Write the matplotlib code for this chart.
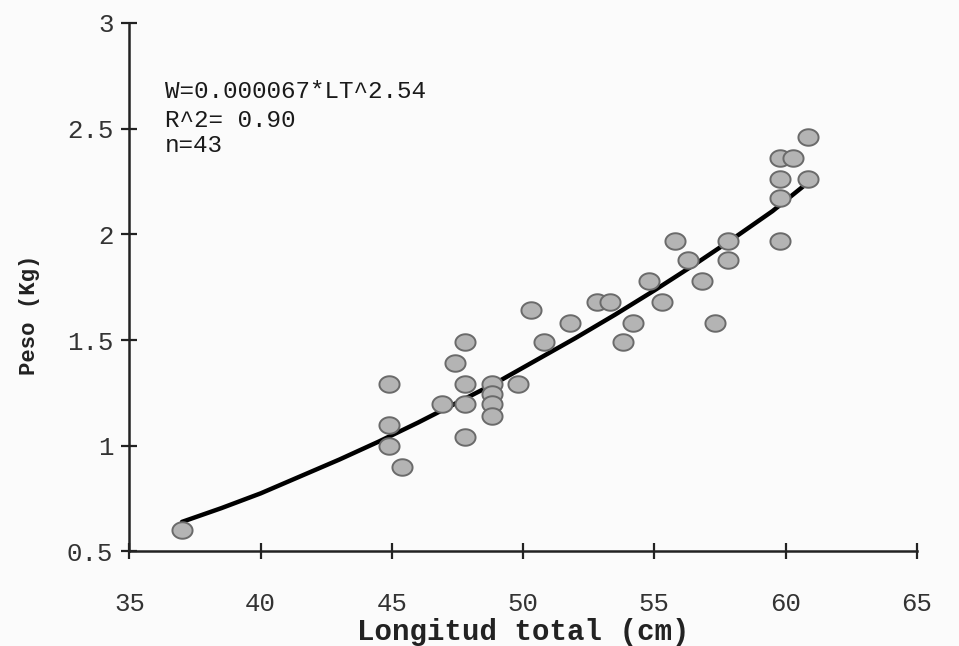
import matplotlib
matplotlib.use("Agg")
import matplotlib.pyplot as plt
import numpy as np
from matplotlib.path import Path

# Observed points (Longitud total cm, Peso kg)
longitud = [37.0, 44.9, 44.9, 44.9, 45.4, 46.9, 47.4, 47.8, 47.8, 47.8, 47.8,
            48.8, 48.8, 48.8, 48.8, 49.8, 50.3, 50.8, 51.8, 52.8, 53.3, 53.8,
            54.2, 54.8, 55.3, 55.8, 56.3, 56.8, 57.3, 57.8, 57.8, 59.8, 59.8,
            59.8, 59.8, 60.3, 60.85, 60.85]
peso = [0.60, 1.29, 1.10, 1.00, 0.90, 1.20, 1.39, 1.49, 1.29, 1.20, 1.04,
        1.29, 1.245, 1.20, 1.14, 1.29, 1.64, 1.49, 1.58, 1.68, 1.68, 1.49,
        1.58, 1.78, 1.68, 1.97, 1.88, 1.78, 1.58, 1.97, 1.88, 2.36, 2.26,
        2.17, 1.97, 2.36, 2.46, 2.26]

# Fitted curve
curve_x = [37.0, 38.5, 40.0, 41.5, 43.0, 44.5, 46.0, 47.5, 49.0, 50.5,
           52.0, 53.5, 55.0, 56.5, 58.0, 59.5, 60.9]
curve_y = [0.64, 0.705, 0.775, 0.855, 0.935, 1.02, 1.11, 1.205, 1.30, 1.405,
           1.51, 1.62, 1.735, 1.855, 1.98, 2.11, 2.25]

x_ticks = [35, 40, 45, 50, 55, 60, 65]
y_ticks = [0.5, 1, 1.5, 2, 2.5, 3]
y_tick_labels = ["0.5", "1", "1.5", "2", "2.5", "3"]
annot = ["W=0.000067*LT^2.54", "R^2= 0.90", "n=43"]

mono = "Liberation Mono"
bg = "#fbfbfb"

fig = plt.figure(figsize=(9.59, 6.46), dpi=100, facecolor=bg)
ax = fig.add_axes([0.135, 0.1463, 0.821, 0.8181], facecolor=bg)

# ellipse marker (wider than tall)
t = np.linspace(0, 2 * np.pi, 60)
ell = Path(np.column_stack([1.22 * np.cos(t), np.sin(t)]), closed=True)
ax.plot(curve_x, curve_y, color="black", lw=3.2, zorder=3,
        solid_capstyle="round", solid_joinstyle="round")
ax.scatter(longitud, peso, marker=ell, s=14.5 ** 2, facecolor="#b4b4b4",
           edgecolor="#6a6a6a", linewidths=1.4, zorder=4)

ax.set_xlim(35, 65)
ax.set_ylim(0.5, 3)
ax.set_xticks(x_ticks)
ax.set_xticklabels([str(v) for v in x_ticks])
ax.set_yticks(y_ticks)
ax.set_yticklabels(y_tick_labels)

for s in ["top", "right"]:
    ax.spines[s].set_visible(False)
for s in ["left", "bottom"]:
    ax.spines[s].set_linewidth(1.8)
    ax.spines[s].set_color("#222222")

ax.tick_params(axis="both", direction="inout", length=11, width=1.6, colors="#222222")
ax.tick_params(axis="x", pad=24, labelsize=18.5, labelcolor="#333333")
ax.tick_params(axis="y", pad=6, labelsize=18.5, labelcolor="#333333")
for lab in ax.get_xticklabels() + ax.get_yticklabels():
    lab.set_family(mono)

ax.set_xlabel("Longitud total (cm)", fontfamily=mono, fontweight="bold",
              fontsize=21, color="#222222", labelpad=1)
ax.set_ylabel("Peso (Kg)", fontfamily=mono, fontweight="bold",
              fontsize=16, color="#222222")
ax.yaxis.set_label_coords(-0.114, 0.447)

for txt, yy in zip(annot, [2.675, 2.541, 2.422]):
    ax.text(36.35, yy, txt, fontfamily=mono, fontsize=17.5, color="#1a1a1a",
            va="center", ha="left")

fig.savefig("out.png", dpi=100, facecolor=bg)
